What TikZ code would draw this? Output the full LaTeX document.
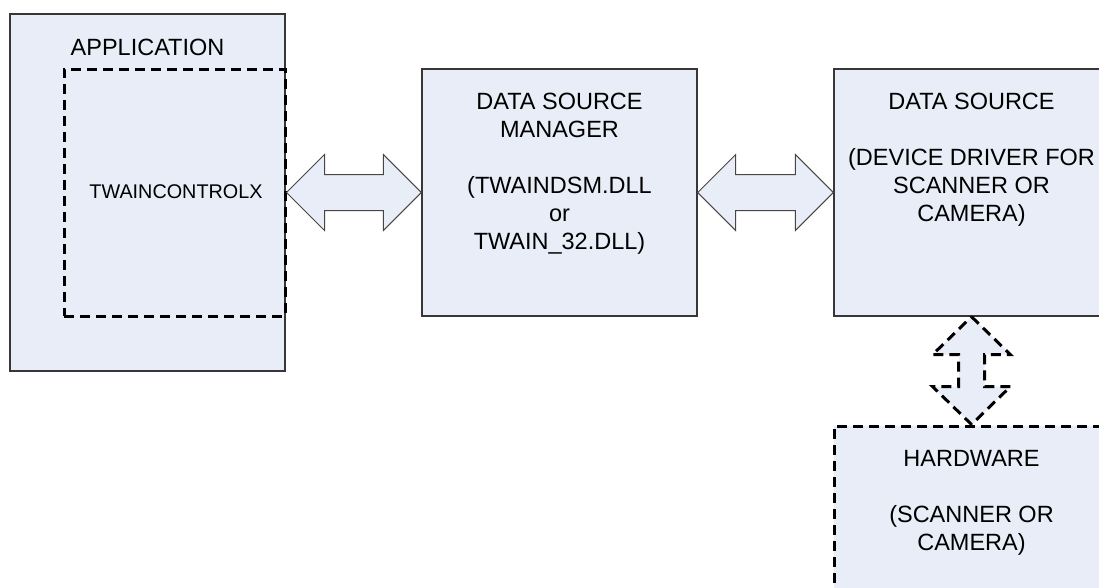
\documentclass[tikz,border=0pt]{standalone}
\usepackage{fontspec}
\setmainfont{Liberation Sans}
\usetikzlibrary{calc}
\definecolor{boxfill}{RGB}{232,237,247}
\definecolor{boxline}{RGB}{55,55,55}
\definecolor{arrline}{RGB}{70,70,70}
\begin{document}
\begin{tikzpicture}[x=1pt,y=-1pt,
  box/.style={draw=boxline, fill=boxfill, line width=1.4pt, inner sep=0pt},
  dashbox/.style={draw=black, line width=3pt, dash pattern=on 10pt off 6pt, inner sep=0pt},
  lbl/.style={inner sep=0pt, align=center, font=\fontsize{23.5}{28}\selectfont},
  dblarrow/.style={fill=boxfill, draw=arrline, line width=1pt, line join=miter},
  dasharrow/.style={fill=boxfill, draw=black, line width=3pt, dash pattern=on 10pt off 6pt, line join=miter}]
\useasboundingbox (0,0) rectangle (1099,587);
\clip (0,0) rectangle (1099,587);
% boxes
\node[box, minimum width=275pt, minimum height=357pt] (app) at (147.5,192.5) {};
\node[dashbox, minimum width=221pt, minimum height=247pt] (ctl) at (174.5,192.5) {};
\node[box, minimum width=275pt, minimum height=247pt] (dsm) at (559.5,192.5) {};
\node[box, minimum width=275pt, minimum height=247pt] (ds) at (971.5,192.5) {};
\node[dashbox, fill=boxfill, minimum width=275pt, minimum height=247pt] (hw) at (971.5,549.5) {};
% texts
\node[lbl, anchor=base] (apptxt) at (147.5,55) {APPLICATION};
\node[lbl, anchor=base, font=\fontsize{19.8}{23}\selectfont] (ctltxt) at (176,198) {TWAINCONTROLX};
\node[lbl, anchor=north] (dsmtxt) at (559.5,93.3) {DATA SOURCE\\MANAGER\\[28pt](TWAINDSM.DLL\\or\\TWAIN\_32.DLL)};
\node[lbl, anchor=north] (dstxt) at (971.5,93.3) {DATA SOURCE\\[28pt](DEVICE DRIVER FOR\\SCANNER OR\\CAMERA)};
\node[lbl, anchor=north] (hwtxt) at (971.5,450.3) {HARDWARE\\[28pt](SCANNER OR\\CAMERA)};
% horizontal double arrows
\coordinate (a1) at (ctl.east);
\coordinate (b1) at (dsm.west);
\draw[dblarrow] (a1) -- ($(a1)+(38,-38)$) -- ($(a1)+(38,-18)$) -- ($(b1)+(-38,-18)$) -- ($(b1)+(-38,-38)$)
  -- (b1) -- ($(b1)+(-38,38)$) -- ($(b1)+(-38,18)$) -- ($(a1)+(38,18)$) -- ($(a1)+(38,38)$) -- cycle;
\coordinate (a2) at (dsm.east);
\coordinate (b2) at (ds.west);
\draw[dblarrow] (a2) -- ($(a2)+(38,-38)$) -- ($(a2)+(38,-18)$) -- ($(b2)+(-38,-18)$) -- ($(b2)+(-38,-38)$)
  -- (b2) -- ($(b2)+(-38,38)$) -- ($(b2)+(-38,18)$) -- ($(a2)+(38,18)$) -- ($(a2)+(38,38)$) -- cycle;
% vertical dashed double arrow
\coordinate (t3) at (ds.south);
\coordinate (b3) at (hw.north);
\draw[dasharrow] (t3) -- ($(t3)+(39,38)$) -- ($(t3)+(13,38)$) -- ($(b3)+(13,-38)$) -- ($(b3)+(39,-38)$)
  -- (b3) -- ($(b3)+(-39,-38)$) -- ($(b3)+(-13,-38)$) -- ($(t3)+(-13,38)$) -- ($(t3)+(-39,38)$) -- cycle;
\end{tikzpicture}
\end{document}
